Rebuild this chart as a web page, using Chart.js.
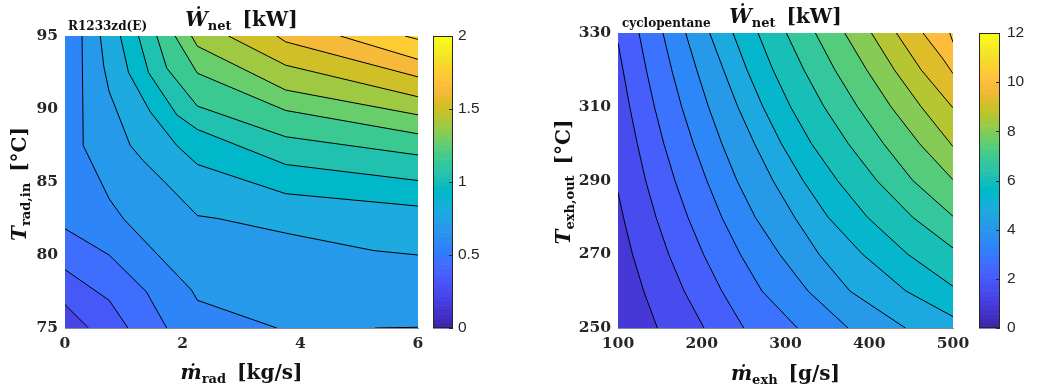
<!DOCTYPE html>
<html>
<head>
<meta charset="utf-8">
<script src="https://cdn.jsdelivr.net/npm/chart.js@4.4.0/dist/chart.umd.min.js"></script>
<style>
  body { margin: 0; background: #fff; }
  #wrap { position: relative; width: 1041px; height: 391px; }
  canvas { position: absolute; top: 0; }
</style>
</head>
<body>
<div id="wrap">
  <canvas id="left" width="520" height="391" style="left:0;width:520px;height:391px"></canvas>
  <canvas id="right" width="521" height="391" style="left:520px;width:521px;height:391px"></canvas>
</div>
<script>
// left panel: R1233zd(E), W_net over radiator mass flow / radiator inlet temperature
const leftXTicks = [0, 2, 4, 6];
const leftYTicks = [75, 80, 85, 90, 95];
const leftBarTicks = [0, 0.5, 1, 1.5, 2];
// first entry = lowest value in the field, then one level per contour line
const leftLevels = [0.20, 0.32, 0.44, 0.56, 0.68, 0.80, 0.92, 1.04, 1.16, 1.28, 1.40, 1.52, 1.64, 1.76, 1.88];
// contour lines, [m_rad, T_rad,in]
const leftContours = [
  [[[0, 76.6], [0.40, 75]]],
  [[[0, 79.0], [0.75, 76.9], [1.07, 75]]],
  [[[0, 81.8], [0.75, 80.0], [1.38, 77.5], [1.73, 75]]],
  [[[0.29, 95], [0.31, 87.5], [0.75, 83.85], [1.0, 82.45], [2.15, 77.6], [2.25, 76.9], [3.6, 75]],
   [[5.27, 75], [6, 75.05]]],
  [[[0.60, 95], [0.66, 92.9], [0.75, 91.2], [1.11, 87.5], [1.32, 86.5], [1.67, 85.1], [2.25, 82.7], [2.6, 82.5], [3.75, 81.5], [5.25, 80.3], [6, 80.0]]],
  [[[0.94, 95], [1.08, 92.5], [1.45, 89.8], [1.9, 87.5], [2.25, 86.2], [3.75, 84.2], [6, 83.35]]],
  [[[1.25, 95], [1.42, 92.5], [1.9, 89.6], [2.25, 88.6], [3.75, 86.2], [6, 85.1]]],
  [[[1.56, 95], [1.73, 92.8], [2.25, 90.2], [3.75, 88.1], [6, 86.85]]],
  [[[1.87, 95], [2.25, 92.45], [3.75, 89.9], [6, 88.3]]],
  [[[2.15, 95], [2.25, 94.3], [3.75, 91.3], [6, 89.6]]],
  [[[2.78, 95], [3.75, 93.0], [6, 90.84]]],
  [[[3.6, 95], [3.75, 94.6], [6, 92.2]]],
  [[[4.68, 95], [6, 93.4]]],
  [[[5.78, 95], [6, 94.77]]]
];

// right panel: cyclopentane, W_net over exhaust mass flow / exhaust outlet temperature
const rightXTicks = [100, 200, 300, 400, 500];
const rightYTicks = [250, 270, 290, 310, 330];
const rightBarTicks = [0, 2, 4, 6, 8, 10, 12];
const rightLevels = [0.80, 1.46, 2.12, 2.78, 3.44, 4.10, 4.76, 5.42, 6.08, 6.74, 7.40, 8.06, 8.72, 9.38, 10.04, 10.70];
const rightContours = [
  [[[100, 286.8], [106.5, 280], [117.3, 270], [130.7, 260], [147, 250]]],
  [[[100, 327.3], [106, 320], [114, 310], [123, 300], [133, 290], [145.5, 280], [160.5, 270], [179, 260], [202.7, 250]]],
  [[[125.1, 330], [133.8, 320], [143.5, 310], [154.7, 300], [168, 290], [183.5, 280], [202, 270], [224, 260], [250.1, 250]]],
  [[[153.7, 330], [164.2, 320], [176, 310], [190, 300], [206, 290], [224, 280], [246, 270], [272, 260], [314.2, 250]]],
  [[[180.8, 330], [194, 320], [208, 310], [224, 300], [242, 290], [264, 280], [293, 270], [327, 260], [374.6, 250]]],
  [[[209.5, 330], [226, 320], [243, 310], [263, 300], [285, 290], [311, 280], [340, 270], [377, 260], [443.2, 250]]],
  [[[237.3, 330], [254, 320], [273, 310], [295, 300], [321, 290], [351, 280], [392, 270], [444, 260], [500, 253.1]]],
  [[[267.2, 330], [285, 320], [306, 310], [331, 300], [362, 290], [398, 280], [446, 270], [500, 261.3]]],
  [[[301.1, 330], [322, 320], [346, 310], [375, 300], [409, 290], [452, 280], [500, 271.7]]],
  [[[335.7, 330], [359, 320], [386, 310], [417, 300], [452, 290], [500, 280.3]]],
  [[[370.7, 330], [397, 320], [426, 310], [460, 300], [500, 290.2]]],
  [[[402.6, 330], [430, 320], [462, 310], [500, 299.2]]],
  [[[432.4, 330], [462, 320], [500, 309.7]]],
  [[[464.2, 330], [488, 323], [500, 319]]],
  [[[496.1, 330], [500, 327.5]]]
];

// matlab parula, 64 entries
const PARULA = [
  [0.2422,0.1504,0.6603],[0.2504,0.1650,0.7076],[0.2578,0.1818,0.7511],[0.2647,0.1978,0.7952],
  [0.2706,0.2147,0.8364],[0.2751,0.2342,0.8710],[0.2783,0.2559,0.8991],[0.2803,0.2782,0.9221],
  [0.2813,0.3006,0.9414],[0.2810,0.3228,0.9579],[0.2795,0.3447,0.9717],[0.2760,0.3667,0.9829],
  [0.2699,0.3892,0.9906],[0.2602,0.4123,0.9952],[0.2440,0.4358,0.9988],[0.2206,0.4603,0.9973],
  [0.1963,0.4847,0.9892],[0.1834,0.5074,0.9798],[0.1786,0.5289,0.9682],[0.1764,0.5499,0.9520],
  [0.1687,0.5703,0.9359],[0.1540,0.5902,0.9218],[0.1460,0.6091,0.9079],[0.1380,0.6276,0.8973],
  [0.1248,0.6459,0.8883],[0.1113,0.6635,0.8763],[0.0952,0.6798,0.8598],[0.0689,0.6948,0.8394],
  [0.0297,0.7082,0.8163],[0.0036,0.7203,0.7917],[0.0067,0.7312,0.7660],[0.0433,0.7411,0.7394],
  [0.0964,0.7500,0.7120],[0.1408,0.7584,0.6842],[0.1717,0.7670,0.6554],[0.1938,0.7758,0.6251],
  [0.2161,0.7843,0.5923],[0.2470,0.7918,0.5567],[0.2906,0.7973,0.5188],[0.3406,0.8008,0.4789],
  [0.3909,0.8029,0.4354],[0.4456,0.8024,0.3909],[0.5044,0.7993,0.3480],[0.5616,0.7942,0.3045],
  [0.6174,0.7876,0.2612],[0.6720,0.7793,0.2227],[0.7242,0.7698,0.1910],[0.7738,0.7598,0.1646],
  [0.8203,0.7498,0.1535],[0.8634,0.7406,0.1596],[0.9035,0.7330,0.1774],[0.9393,0.7288,0.2100],
  [0.9728,0.7298,0.2394],[0.9956,0.7434,0.2371],[0.9970,0.7659,0.2199],[0.9952,0.7893,0.2028],
  [0.9892,0.8136,0.1885],[0.9786,0.8386,0.1766],[0.9676,0.8639,0.1643],[0.9610,0.8890,0.1537],
  [0.9597,0.9135,0.1423],[0.9628,0.9373,0.1265],[0.9691,0.9606,0.1064],[0.9769,0.9839,0.0805]
];

const SERIF = "'DejaVu Serif', serif";
const SANS = "'Liberation Sans', Arial, sans-serif";
const INK = '#262626';

function rgb(c) {
  return 'rgb(' + c.map(v => Math.round(v * 255)).join(',') + ')';
}

function parulaColor(t) {
  t = Math.min(1, Math.max(0, t));
  const f = t * (PARULA.length - 1);
  const i = Math.min(PARULA.length - 2, Math.floor(f));
  const u = f - i;
  return rgb(PARULA[i].map((v, j) => v + (PARULA[i + 1][j] - v) * u));
}

// position of a boundary point going round the plot box, counter-clockwise from bottom-left
function perimPos(p, xr, yr) {
  const w = xr[1] - xr[0], h = yr[1] - yr[0];
  const dl = Math.abs(p[0] - xr[0]) / w, dr = Math.abs(p[0] - xr[1]) / w;
  const db = Math.abs(p[1] - yr[0]) / h, dt = Math.abs(p[1] - yr[1]) / h;
  const m = Math.min(dl, dr, db, dt);
  if (m === db) return (p[0] - xr[0]) / w;
  if (m === dr) return 1 + (p[1] - yr[0]) / h;
  if (m === dt) return 2 + (xr[1] - p[0]) / w;
  return 3 + (yr[1] - p[1]) / h;
}

// polygon of the part of the box that lies above one contour level
function highRegion(pieces, xr, yr) {
  const corners = [[1, [xr[1], yr[0]]], [2, [xr[1], yr[1]]], [3, [xr[0], yr[1]]], [4, [xr[0], yr[0]]]];
  const out = [];
  const done = new Set();
  let cur = 0;
  for (let guard = 0; guard <= pieces.length; guard++) {
    done.add(cur);
    const pc = pieces[cur];
    pc.forEach(p => out.push(p));
    const e = perimPos(pc[pc.length - 1], xr, yr);
    let next = 0, best = Infinity;
    pieces.forEach((q, i) => {
      if (i !== 0 && done.has(i)) return;
      const d = (perimPos(q[0], xr, yr) - e + 4) % 4;
      if (d < best) { best = d; next = i; }
    });
    corners.map(([c, pt]) => [(c - e + 4) % 4, pt])
      .filter(([d]) => d > 1e-9 && d < best)
      .sort((a, b) => a[0] - b[0])
      .forEach(([, pt]) => out.push(pt));
    if (next === 0) break;
    cur = next;
  }
  return out;
}

const bandStyle = { showLine: true, fill: 'shape', borderWidth: 0, borderColor: 'rgba(0,0,0,0)', pointRadius: 0 };
const lineStyle = { showLine: true, fill: false, borderWidth: 1, borderColor: '#000', pointRadius: 0, order: 0 };

function buildDatasets(levels, contours, xr, yr, cmax) {
  const toXY = pts => pts.map(([x, y]) => ({ x, y }));
  const n = contours.length;
  const sets = [Object.assign({
    data: toXY([[xr[0], yr[0]], [xr[1], yr[0]], [xr[1], yr[1]], [xr[0], yr[1]]]),
    backgroundColor: parulaColor(levels[0] / cmax),
    order: n + 2
  }, bandStyle)];
  contours.forEach((pieces, k) => {
    sets.push(Object.assign({
      data: toXY(highRegion(pieces, xr, yr)),
      backgroundColor: parulaColor(levels[k + 1] / cmax),
      order: n + 1 - k
    }, bandStyle));
    pieces.forEach(pc => sets.push(Object.assign({ data: toXY(pc) }, lineStyle)));
  });
  return sets;
}

function richWidth(ctx, parts) {
  return parts.reduce((w, p) => {
    ctx.font = p.font;
    return w + ctx.measureText(p.text).width + (p.gap || 0);
  }, 0);
}

function drawRich(ctx, parts, cx, baseY) {
  let x = cx - richWidth(ctx, parts) / 2;
  parts.forEach(p => {
    ctx.font = p.font;
    ctx.fillText(p.text, x, baseY + (p.dy || 0));
    x += ctx.measureText(p.text).width + (p.gap || 0);
  });
}

const big = 'bold 20px ' + SERIF;
const bigIt = 'bold italic 20px ' + SERIF;
const small = 'bold 13px ' + SERIF;

function label(sym, sub, unit) {
  return [
    { text: sym, font: bigIt },
    { text: sub, font: small, dy: 4, gap: 11 },
    { text: unit, font: big }
  ];
}

function decor(cfg) {
  return {
    id: 'decor',
    afterDraw(chart) {
      const ctx = chart.ctx, area = chart.chartArea, cb = chart.scales.cb;
      ctx.save();
      // colorbar
      const x0 = cb.left + cfg.barGap, w = cfg.barWidth;
      for (let i = 0; i < PARULA.length; i++) {
        const ya = cb.getPixelForValue((i + 1) / PARULA.length * cfg.cmax);
        const yb = cb.getPixelForValue(i / PARULA.length * cfg.cmax);
        ctx.fillStyle = rgb(PARULA[i]);
        ctx.fillRect(x0, ya, w, yb - ya + 0.6);
      }
      const yTop = cb.getPixelForValue(cfg.cmax), yBot = cb.getPixelForValue(0);
      ctx.strokeStyle = INK;
      ctx.lineWidth = 1;
      ctx.strokeRect(Math.round(x0) + 0.5, Math.round(yTop) + 0.5, w - 1, Math.round(yBot - yTop) - 1);
      cb.ticks.forEach(t => {
        const y = Math.round(cb.getPixelForValue(t.value)) + 0.5;
        ctx.beginPath();
        ctx.moveTo(x0 + w - 4, y);
        ctx.lineTo(x0 + w, y);
        ctx.stroke();
      });
      // texts
      ctx.fillStyle = '#111';
      ctx.textAlign = 'left';
      ctx.textBaseline = 'alphabetic';
      const cx = (area.left + area.right) / 2;
      drawRich(ctx, label('\u1E86', 'net', '[kW]'), cx, cfg.titleY);
      ctx.font = 'bold 12px ' + SERIF;
      ctx.fillText(cfg.fluid, cfg.fluidX, cfg.fluidY);
      drawRich(ctx, cfg.xLabel, cx, cfg.xLabelY);
      ctx.translate(cfg.yLabelX, cfg.yLabelCY);
      ctx.rotate(-Math.PI / 2);
      drawRich(ctx, cfg.yLabel, 0, 0);
      ctx.restore();
    }
  };
}

// plain tick text, no forced decimals
const plain = v => String(v);

function makeChart(id, cfg) {
  const tickFont = { family: SERIF, size: 15.5, weight: 'bold' };
  const axisBorder = { display: true, color: '#8a8a8a', width: 1 };
  return new Chart(document.getElementById(id), {
    type: 'scatter',
    data: { datasets: buildDatasets(cfg.levels, cfg.contours, cfg.xr, cfg.yr, cfg.cmax) },
    options: {
      responsive: false,
      animation: false,
      devicePixelRatio: 1,
      events: [],
      layout: { padding: { top: cfg.top, left: 0, right: 0, bottom: 0 } },
      plugins: { legend: { display: false }, tooltip: { enabled: false }, title: { display: false } },
      scales: {
        x: {
          type: 'linear', min: cfg.xr[0], max: cfg.xr[1],
          afterBuildTicks: s => { s.ticks = cfg.xTicks.map(v => ({ value: v })); },
          afterFit: s => { s.height = 63; },
          grid: { display: false, drawTicks: false },
          border: axisBorder,
          ticks: { font: tickFont, color: INK, padding: 7, maxRotation: 0, autoSkip: false, callback: plain }
        },
        y: {
          type: 'linear', min: cfg.yr[0], max: cfg.yr[1],
          afterBuildTicks: s => { s.ticks = cfg.yTicks.map(v => ({ value: v })); },
          afterFit: s => { s.width = cfg.yWidth; s.paddingTop = 0; s.paddingBottom = 0; },
          grid: { display: false, drawTicks: false },
          border: axisBorder,
          ticks: { font: tickFont, color: INK, padding: 7, autoSkip: false, callback: plain }
        },
        cb: {
          type: 'linear', axis: 'y', position: 'right', min: 0, max: cfg.cmax,
          afterBuildTicks: s => { s.ticks = cfg.barTicks.map(v => ({ value: v })); },
          afterFit: s => { s.width = cfg.cbWidth; s.paddingTop = 0; s.paddingBottom = 0; },
          grid: { display: false, drawTicks: false },
          border: { display: false },
          ticks: { font: { family: SANS, size: 15.5 }, color: INK, padding: cfg.cbPad, autoSkip: false, callback: plain }
        }
      }
    },
    plugins: [decor(cfg)]
  });
}

makeChart('left', {
  levels: leftLevels, contours: leftContours, xr: [0, 6], yr: [75, 95], cmax: 2,
  xTicks: leftXTicks, yTicks: leftYTicks, barTicks: leftBarTicks,
  top: 36, yWidth: 65, cbWidth: 102, cbPad: 40, barGap: 15, barWidth: 20,
  titleY: 26, fluid: 'R1233zd(E)', fluidX: 68, fluidY: 30,
  xLabel: label('\u1E41', 'rad', '[kg/s]'), xLabelY: 379,
  yLabel: label('T', 'rad,in', '[\u00B0C]'), yLabelX: 26, yLabelCY: 184
});

makeChart('right', {
  levels: rightLevels, contours: rightContours, xr: [100, 500], yr: [250, 330], cmax: 12,
  xTicks: rightXTicks, yTicks: rightYTicks, barTicks: rightBarTicks,
  top: 33, yWidth: 98, cbWidth: 88, cbPad: 54, barGap: 26, barWidth: 21,
  titleY: 23, fluid: 'cyclopentane', fluidX: 102, fluidY: 26.5,
  xLabel: label('\u1E41', 'exh', '[g/s]'), xLabelY: 380,
  yLabel: label('T', 'exh,out', '[\u00B0C]'), yLabelX: 49.5, yLabelCY: 182
});
</script>
</body>
</html>
